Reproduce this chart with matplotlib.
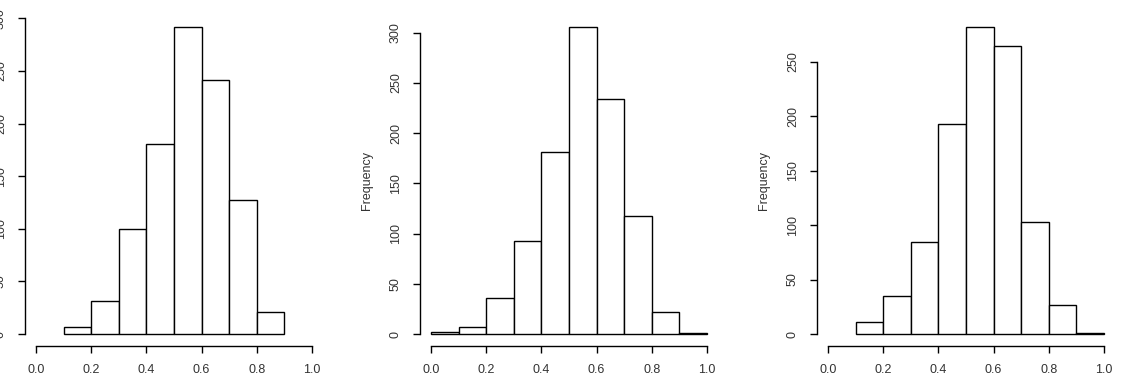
import matplotlib
matplotlib.use('Agg')
import numpy as np
from matplotlib import pyplot as plt

# bin edges (left side) and counts
left1 = [0.1, 0.2, 0.3, 0.4, 0.5, 0.6, 0.7, 0.8]
counts1 = [7, 31, 100, 181, 292, 241, 127, 21]

left2 = [0.0, 0.1, 0.2, 0.3, 0.4, 0.5, 0.6, 0.7, 0.8, 0.9]
counts2 = [2, 7, 36, 93, 181, 306, 234, 118, 22, 1]

left3 = [0.1, 0.2, 0.3, 0.4, 0.5, 0.6, 0.7, 0.8, 0.9]
counts3 = [11, 35, 84, 193, 282, 264, 103, 27, 1]

yticks1 = [0, 50, 100, 150, 200, 250, 300]
yticks2 = [0, 50, 100, 150, 200, 250, 300]
yticks3 = [0, 50, 100, 150, 200, 250]
xticks = [0.0, 0.2, 0.4, 0.6, 0.8, 1.0]

plt.rcParams['font.family'] = ['Liberation Sans', 'DejaVu Sans']
txt = '#333333'

fig = plt.figure(figsize=(11.28, 3.92), dpi=100)
lefts_px = [25, 420, 817]


def r_hist(ax, left, counts, yticks, ylabel):
    ax.bar(left, counts, width=0.1, align='edge', color='white',
           edgecolor='black', linewidth=1.0)
    top = max(counts)
    ax.set_xlim(-0.04, 1.04)
    ax.set_ylim(-0.04 * top, 1.04 * top)
    for s in ['top', 'right']:
        ax.spines[s].set_visible(False)
    ax.spines['left'].set_bounds(yticks[0], yticks[-1])
    ax.spines['bottom'].set_bounds(0, 1)
    for s in ['left', 'bottom']:
        ax.spines[s].set_linewidth(1.0)
    ax.set_xticks(xticks)
    ax.set_xticklabels(['%.1f' % v for v in xticks])
    ax.set_yticks(yticks)
    ax.tick_params(length=5, width=1.0, pad=8, labelsize=9, labelcolor=txt)
    ax.tick_params(axis='y', labelrotation=90)
    for lab in ax.get_yticklabels():
        lab.set_va('center')
    if ylabel:
        ax.set_ylabel(ylabel, fontsize=9, color=txt)
        ax.yaxis.set_label_coords(-0.178, 0.5)
        ax.yaxis.label.set_va('center')


panels = [(left1, counts1, yticks1, None),
          (left2, counts2, yticks2, 'Frequency'),
          (left3, counts3, yticks3, 'Frequency')]

for lp, (l, c, yt, yl) in zip(lefts_px, panels):
    ax = fig.add_axes([lp / 1128, (392 - 346.3) / 392, 298 / 1128, 331.8 / 392])
    ax.patch.set_alpha(0)
    r_hist(ax, l, c, yt, yl)

plt.savefig('out.png', dpi=100)
